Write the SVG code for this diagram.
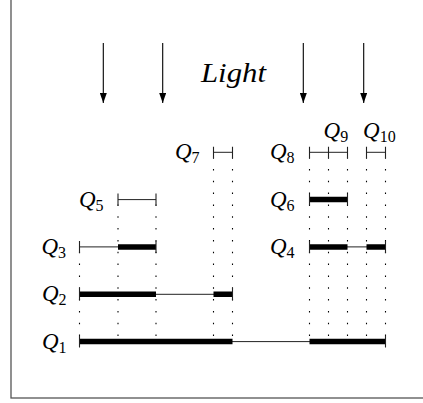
<svg xmlns="http://www.w3.org/2000/svg" width="423" height="403" viewBox="0 0 423 403">
<defs>
<style>
.frame{fill:none;stroke:#555;stroke-width:1.3}
.thin{stroke:#222;stroke-width:1;fill:none}
.thick{stroke:#000;stroke-width:5.5;fill:none}
.tick{stroke:#222;stroke-width:1.1;fill:none}
.dot{stroke:#000;stroke-width:1.1;fill:none;stroke-dasharray:1.5 10.33;stroke-dashoffset:6.31}
.arrow{stroke:#000;stroke-width:1.1;fill:none;marker-end:url(#head)}
.lbl{font-family:"Liberation Serif","DejaVu Serif",serif;font-style:italic;font-size:23px;fill:#000}
.sub{font-style:normal;font-size:16px}
.light{font-family:"Liberation Serif","DejaVu Serif",serif;font-style:italic;font-size:28px;fill:#000}
</style>
<marker id="head" viewBox="0 0 10 7" refX="10" refY="3.5" markerWidth="10" markerHeight="7" markerUnits="userSpaceOnUse" orient="auto">
<path d="M0,0 L10,3.5 L0,7 Z" fill="#000"/>
</marker>
</defs>
<rect class="frame" x="11" y="-5" width="500" height="403"/>
<g id="guides">
<path class="dot" d="M79.5,341.6V246.9"/>
<path class="dot" d="M118,341.6V199.6"/>
<path class="dot" d="M156,341.6V199.6"/>
<path class="dot" d="M213.5,341.6V152.3"/>
<path class="dot" d="M232.5,341.6V152.3"/>
<path class="dot" d="M309.5,341.6V152.3"/>
<path class="dot" d="M328.5,341.6V152.3"/>
<path class="dot" d="M347.5,341.6V152.3"/>
<path class="dot" d="M366.5,341.6V152.3"/>
<path class="dot" d="M385.5,341.6V152.3"/>
</g>
<g id="connectors">
<path class="arrow" d="M103.3,43V103"/>
<path class="arrow" d="M162.7,43V103"/>
<path class="arrow" d="M303.3,43V103"/>
<path class="arrow" d="M363.7,43V103"/>
</g>
<g id="light"><text class="light" x="201" y="81.5" textLength="65" lengthAdjust="spacingAndGlyphs">Light</text></g>
<g id="Q1">
<path class="thin" d="M79.5,341.6H385.5"/>
<path class="thick" d="M79.5,341.6H232.5M309.5,341.6H385.5"/>
<path class="tick" d="M79.5,335.6v12M385.5,335.6v12"/>
<text class="lbl" x="66.5" y="348.6" text-anchor="end">Q<tspan class="sub" dy="4">1</tspan></text>
</g>
<g id="Q2">
<path class="thin" d="M79.5,294.3H232.5"/>
<path class="thick" d="M79.5,294.3H156M213.5,294.3H232.5"/>
<path class="tick" d="M79.5,288.3v12M232.5,288.3v12"/>
<text class="lbl" x="66.5" y="301.3" text-anchor="end">Q<tspan class="sub" dy="4">2</tspan></text>
</g>
<g id="Q3">
<path class="thin" d="M79.5,246.9H156"/>
<path class="thick" d="M118,246.9H156"/>
<path class="tick" d="M79.5,240.9v12M156,240.9v12"/>
<text class="lbl" x="66" y="253.9" text-anchor="end">Q<tspan class="sub" dy="4">3</tspan></text>
</g>
<g id="Q4">
<path class="thin" d="M309.5,246.9H385.5"/>
<path class="thick" d="M309.5,246.9H347.5M366.5,246.9H385.5"/>
<path class="tick" d="M309.5,240.9v12M385.5,240.9v12"/>
<text class="lbl" x="294.5" y="253.9" text-anchor="end">Q<tspan class="sub" dy="4">4</tspan></text>
</g>
<g id="Q5">
<path class="thin" d="M118,199.6H156"/>
<path class="tick" d="M118,193.6v12M156,193.6v12"/>
<text class="lbl" x="103.5" y="206.6" text-anchor="end">Q<tspan class="sub" dy="4">5</tspan></text>
</g>
<g id="Q6">
<path class="thick" d="M309.5,199.6H347.5"/>
<path class="tick" d="M309.5,193.6v12M347.5,193.6v12"/>
<text class="lbl" x="294.5" y="206.6" text-anchor="end">Q<tspan class="sub" dy="4">6</tspan></text>
</g>
<g id="Q7">
<path class="thin" d="M213.5,152.3H232.5"/>
<path class="tick" d="M213.5,146.8v11M232.5,146.8v11"/>
<text class="lbl" x="199.5" y="159.3" text-anchor="end">Q<tspan class="sub" dy="4">7</tspan></text>
</g>
<g id="Q8">
<path class="thin" d="M309.5,152.3H328.5"/>
<path class="tick" d="M309.5,146.8v11M328.5,146.8v11"/>
<text class="lbl" x="294.5" y="159.3" text-anchor="end">Q<tspan class="sub" dy="4">8</tspan></text>
</g>
<g id="Q9">
<path class="thin" d="M328.5,152.3H347.5"/>
<path class="tick" d="M347.5,146.8v11"/>
<text class="lbl" x="323.5" y="137.5">Q<tspan class="sub" dy="4">9</tspan></text>
</g>
<g id="Q10">
<path class="thin" d="M366.5,152.3H385.5"/>
<path class="tick" d="M366.5,146.8v11M385.5,146.8v11"/>
<text class="lbl" x="363" y="137.5">Q<tspan class="sub" dy="4">10</tspan></text>
</g>
</svg>
